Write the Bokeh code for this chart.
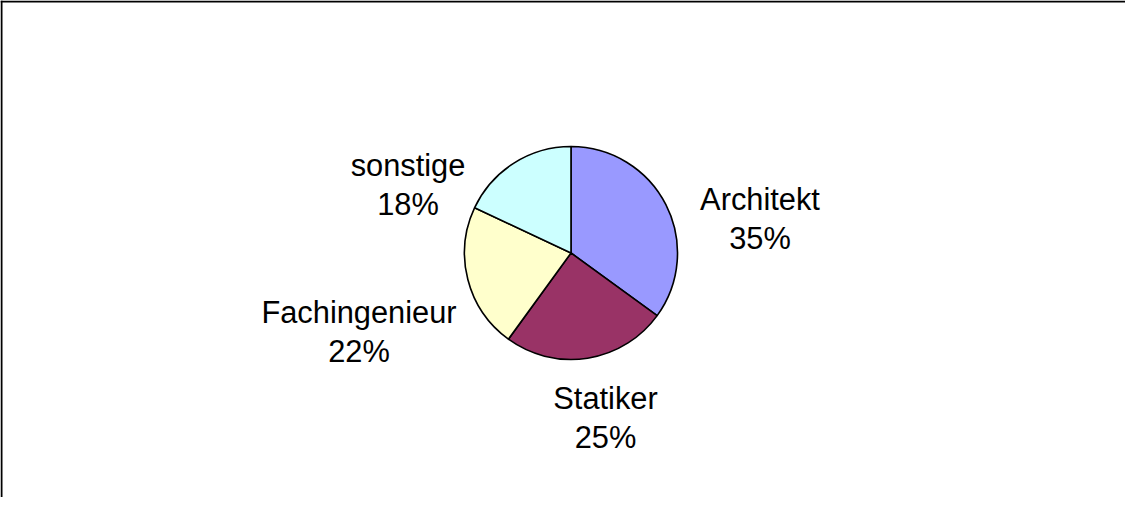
import math
from bokeh.plotting import figure
from bokeh.models import Range1d, Span, ColumnDataSource
from bokeh.core.properties import value
from bokeh.embed import file_html
from bokeh.resources import INLINE

# ---- data ----
categories = ["Architekt", "Statiker", "Fachingenieur", "sonstige"]
shares = [35, 25, 22, 18]
colors = ["#9999FF", "#993366", "#FFFFCC", "#CCFFFF"]

# ---- layout (screen pixels of the page) ----
W, H = 1125, 497
OX, OY = 8, 8                     # page margin
cx_s, cy_s, r = 578.5, 260.5, 106.5
label_pos_s = [(767.5, 207), (613, 406), (366.5, 320), (415.5, 173)]  # name baselines
line_gap = 38.5
font = "Liberation Sans"
fsize = "30.8px"

def dx(x):
    return x - OX

def dy(y):
    return (OY + H) - y

p = figure(width=W, height=H, output_backend="svg", toolbar_location=None,
           x_range=Range1d(0, W), y_range=Range1d(0, H), min_border=0)
p.axis.visible = False
p.grid.visible = False
p.outline_line_color = None
p.background_fill_color = "white"
p.border_fill_color = "white"

# wedges: start at 12 o'clock, clockwise
total = sum(shares)
starts, ends = [], []
acc = 0.0
for s in shares:
    a0 = math.pi / 2 - 2 * math.pi * acc / total
    acc += s
    a1 = math.pi / 2 - 2 * math.pi * acc / total
    starts.append(a0)
    ends.append(a1)

src = ColumnDataSource(dict(start=starts, end=ends, color=colors))
p.wedge(x=dx(cx_s), y=dy(cy_s), radius=r, start_angle="start", end_angle="end",
        direction="clock", fill_color="color", line_color="black", line_width=1.6,
        source=src)

# labels
names_x = [dx(x) for x, _ in label_pos_s]
names_y = [dy(y) for _, y in label_pos_s]
pct_y = [dy(y + line_gap) for _, y in label_pos_s]
pct_txt = [f"{s}%" for s in shares]

p.text(x=names_x, y=names_y, text=categories, text_align="center",
       text_baseline="alphabetic", text_font=value(font), text_font_size=fsize,
       text_color="black")
p.text(x=names_x, y=pct_y, text=pct_txt, text_align="center",
       text_baseline="alphabetic", text_font=value(font), text_font_size=fsize,
       text_color="black")

# chart-area border (left and top edges visible)
p.add_layout(Span(location=1, dimension="height", line_color="black", line_width=2))
p.add_layout(Span(location=H - 1, dimension="width", line_color="black", line_width=2))

open("out.html", "w").write(file_html(p, INLINE))
